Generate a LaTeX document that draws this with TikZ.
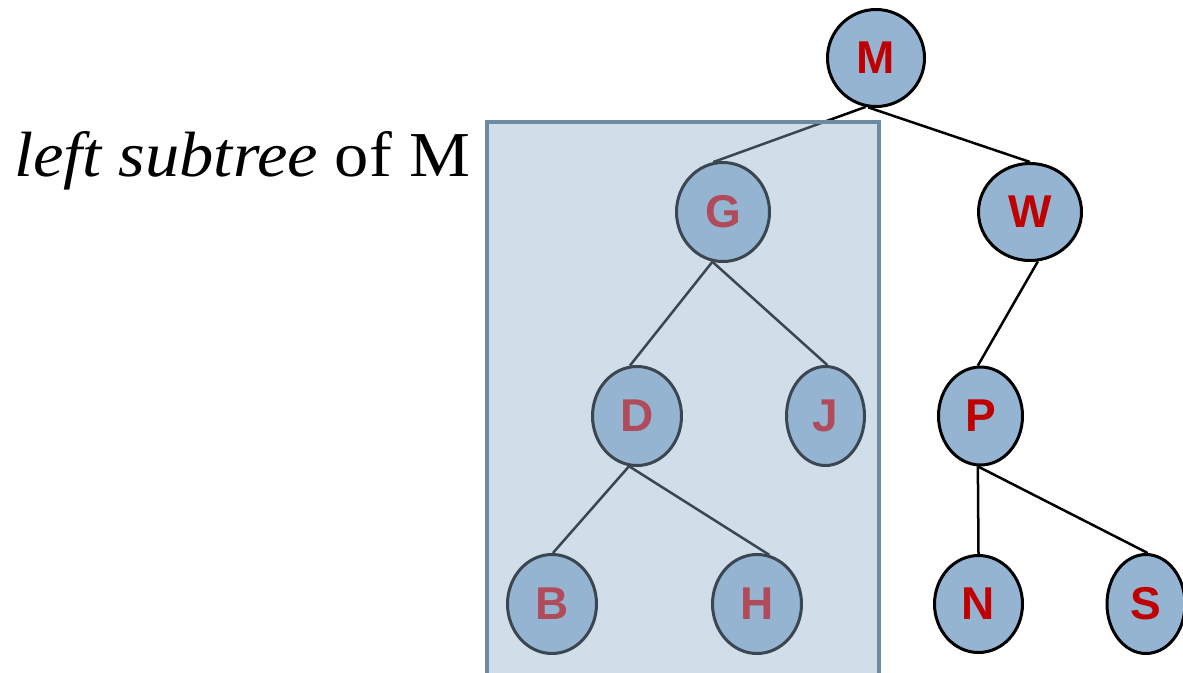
\documentclass[tikz,border=0pt]{standalone}
\usepackage{fontspec}
\setmainfont{Liberation Serif}
\newfontfamily\nodefont{Liberation Sans}
\usetikzlibrary{shapes.geometric,backgrounds}
\definecolor{nodefill}{HTML}{94B4D1}
\definecolor{redtext}{HTML}{C00000}
\definecolor{pinktext}{HTML}{B04C5A}
\definecolor{darkslate}{HTML}{3C4650}
\definecolor{boxfill}{HTML}{D0DEEA}
\definecolor{boxborder}{HTML}{6E8AA0}
\begin{document}
\begin{tikzpicture}[x=1pt,y=-1pt,
  tnode/.style={ellipse, draw=black, line width=3pt, fill=nodefill, inner sep=0pt,
    text=redtext, font=\nodefont\bfseries\fontsize{46}{46}\selectfont},
  inbox/.style={draw=darkslate, text=pinktext},
  edgeout/.style={line width=2.5pt, draw=black},
  edgein/.style={line width=2.5pt, draw=darkslate}]
\useasboundingbox (0,0) rectangle (1183,672);

\node[tnode, minimum width=97pt, minimum height=97pt] (M) at (876,58) {M};
\node[tnode, inbox, minimum width=93pt, minimum height=99pt] (G) at (723,212) {G};
\node[tnode, minimum width=103pt, minimum height=97pt] (W) at (1030,212) {W};
\node[tnode, inbox, minimum width=89pt, minimum height=99pt] (D) at (637,416) {D};
\node[tnode, inbox, minimum width=78pt, minimum height=99pt] (J) at (825.5,416) {J};
\node[tnode, minimum width=84pt, minimum height=98pt] (P) at (980.5,416) {P};
\node[tnode, inbox, minimum width=89pt, minimum height=99pt] (B) at (552,604) {B};
\node[tnode, inbox, minimum width=89pt, minimum height=99pt] (H) at (757,604) {H};
\node[tnode, minimum width=88pt, minimum height=97pt] (N) at (978.5,604) {N};
\node[tnode, minimum width=78pt, minimum height=99pt] (S) at (1146,604) {S};

\node[anchor=base west, inner sep=0pt, xscale=1.07, font=\fontsize{64}{64}\selectfont] (lbl) at (14,176) {\textit{left subtree} of M};

\begin{pgfonlayer}{background}
  \draw[edgeout] (M.258) -- (G.101);
  \draw[edgeout] (M.261) -- (W.90);
  \draw[edgeout] (W.279) -- (P.93);
  \draw[edgeout] (P.267) -- (N.90);
  \draw[edgeout] (P.267) -- (S.88);
  \draw[line width=4pt, draw=boxborder, fill=boxfill] (487,122) coordinate (boxtl) rectangle (879,675) coordinate (boxbr);
  \begin{scope}
    \clip (489,124) rectangle (877,673);
    \draw[edgein] (M.258) -- (G.101);
  \end{scope}
  \draw[edgein] (G.258) -- (D.98);
  \draw[edgein] (G.258) -- (J.88);
  \draw[edgein] (D.261) -- (B.89);
  \draw[edgein] (D.261) -- (H.76);
\end{pgfonlayer}
\end{tikzpicture}
\end{document}
